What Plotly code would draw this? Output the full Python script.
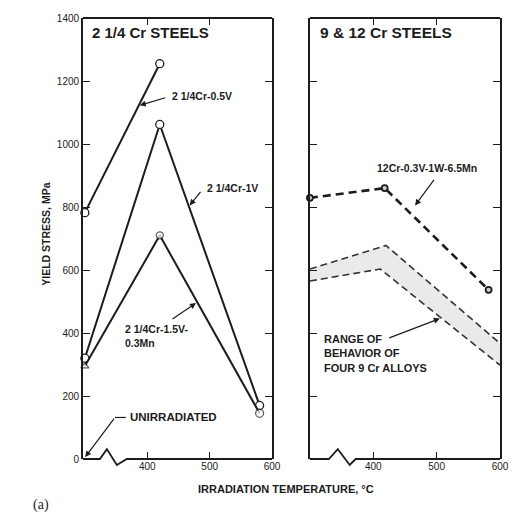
import plotly.graph_objects as go

# ---- data ----
temp_05V = [300, 420]
ys_05V = [782, 1255]
temp_1V = [300, 420, 580]
ys_1V = [320, 1062, 170]
temp_15V = [300, 420, 580]
ys_15V = [295, 710, 145]
temp_12Cr = [300, 418, 582]
ys_12Cr = [829, 860, 537]
band_upper_t = [300, 420, 600]
band_upper_y = [603, 678, 367]
band_lower_t = [300, 411, 600]
band_lower_y = [565, 603, 298]
y_ticks = [0, 200, 400, 600, 800, 1000, 1200, 1400]
x_ticks = [400, 500, 600]

W, H = 521, 523
ML, MR, MT, MB = 83, 19, 13, 64
PW = W - ML - MR
PH = H - MT - MB


def px(x):
    return (x - ML) / PW


def py(y):
    return (H - MB - y) / PH


INK = "#1c1c1c"
FONT = "Liberation Sans, Arial, sans-serif"

fig = go.Figure()

# left panel
fig.add_trace(go.Scatter(x=temp_05V, y=ys_05V, mode="lines+markers", xaxis="x", yaxis="y",
                         line=dict(color=INK, width=2),
                         marker=dict(symbol="circle", size=8, color="white", line=dict(color=INK, width=1.3)),
                         showlegend=False, cliponaxis=False))
fig.add_trace(go.Scatter(x=temp_1V, y=ys_1V, mode="lines+markers", xaxis="x", yaxis="y",
                         line=dict(color=INK, width=2),
                         marker=dict(symbol="circle", size=8, color="white", line=dict(color=INK, width=1.3)),
                         showlegend=False, cliponaxis=False))
fig.add_trace(go.Scatter(x=temp_15V, y=ys_15V, mode="lines+markers", xaxis="x", yaxis="y",
                         line=dict(color=INK, width=2),
                         marker=dict(symbol=["triangle-up", "circle", "circle"], size=[7, 7, 8], color="white",
                                     line=dict(color=INK, width=1.3)),
                         showlegend=False, cliponaxis=False))

# right panel: band
fig.add_trace(go.Scatter(x=band_lower_t, y=band_lower_y, mode="lines", xaxis="x2", yaxis="y2",
                         line=dict(color="#333", width=1.6, dash="7px,4px"), showlegend=False))
fig.add_trace(go.Scatter(x=band_upper_t, y=band_upper_y, mode="lines", xaxis="x2", yaxis="y2",
                         line=dict(color="#333", width=1.6, dash="7px,4px"), fill="tonexty",
                         fillcolor="rgba(185,185,185,0.3)", showlegend=False))
fig.add_trace(go.Scatter(x=temp_12Cr, y=ys_12Cr, mode="lines+markers", xaxis="x2", yaxis="y2",
                         line=dict(color=INK, width=2.6, dash="8px,5px"),
                         marker=dict(symbol="circle", size=6, color="#cfcfcf", line=dict(color=INK, width=1.8)),
                         showlegend=False, cliponaxis=False))

axis_common = dict(showgrid=False, zeroline=False, ticks="inside", ticklen=7, tickwidth=1.3,
                   tickcolor=INK, tickfont=dict(family=FONT, size=10, color=INK))

fig.update_layout(
    width=W, height=H, margin=dict(l=ML, r=MR, t=MT, b=MB),
    paper_bgcolor="white", plot_bgcolor="white",
    xaxis=dict(domain=[0, px(273)], range=[297, 600], tickvals=x_ticks, showline=False,
               mirror="ticks", anchor="y", **axis_common),
    yaxis=dict(domain=[0, 1], range=[0, 1400], tickvals=y_ticks, showline=True, linecolor=INK,
               linewidth=1.8, mirror="ticks", anchor="x", **axis_common),
    xaxis2=dict(domain=[px(311), 1], range=[300, 600], tickvals=x_ticks, showline=False,
                mirror="ticks", anchor="y2", **axis_common),
    yaxis2=dict(domain=[0, 1], range=[0, 1400], tickvals=y_ticks, showline=True, linecolor=INK,
                linewidth=1.8, mirror="ticks", anchor="x2", showticklabels=False, **axis_common),
)

shapes = []
line_style = dict(color=INK, width=1.8)
# top frame lines
shapes.append(dict(type="line", xref="paper", yref="paper", x0=0, x1=px(273), y0=1, y1=1, line=line_style))
shapes.append(dict(type="line", xref="paper", yref="paper", x0=px(311), x1=1, y0=1, y1=1, line=line_style))
# bottom axis lines with break zigzag
left_path = (f"M {px(83)},{py(459)} L {px(100)},{py(459)} L {px(107)},{py(449)} "
             f"L {px(117)},{py(465)} L {px(127)},{py(459)} L {px(273)},{py(459)}")
right_path = (f"M {px(311)},{py(459)} L {px(330)},{py(459)} L {px(339)},{py(449)} "
              f"L {px(351)},{py(465)} L {px(357)},{py(459)} L {px(502)},{py(459)}")
shapes.append(dict(type="path", xref="paper", yref="paper", path=left_path, line=line_style))
shapes.append(dict(type="path", xref="paper", yref="paper", path=right_path, line=line_style))
# short leader for UNIRRADIATED
shapes.append(dict(type="line", xref="paper", yref="paper", x0=px(115), x1=px(126), y0=py(417), y1=py(417),
                   line=dict(color=INK, width=1.2)))
fig.update_layout(shapes=shapes)

ann = []
lab = dict(family=FONT, size=10.5, color=INK)
bold = lambda s: f"<b>{s}</b>"

# titles
ann.append(dict(xref="paper", yref="paper", x=px(90), y=py(28), xanchor="left", yanchor="middle",
                text=bold("2 1/4 Cr STEELS"), showarrow=False, font=dict(family=FONT, size=15, color=INK)))
ann.append(dict(xref="paper", yref="paper", x=px(319), y=py(28), xanchor="left", yanchor="middle",
                text=bold("9 &amp; 12 Cr STEELS"), showarrow=False, font=dict(family=FONT, size=15.5, color=INK)))

# axis titles
ann.append(dict(xref="paper", yref="paper", x=px(37), y=py(232), text=bold("YIELD STRESS, MPa"),
                textangle=-90, showarrow=False, font=dict(family=FONT, size=10.5, color=INK)))
ann.append(dict(xref="paper", yref="paper", x=px(287), y=py(497), text=bold("IRRADIATION TEMPERATURE, °C"),
                showarrow=False, font=dict(family=FONT, size=11, color=INK)))
ann.append(dict(xref="paper", yref="paper", x=px(31), y=py(516), text="(a)", showarrow=False,
                font=dict(family="Liberation Serif, Times New Roman, serif", size=14, color=INK)))

# labels with arrows (left panel)
ann.append(dict(xref="x", yref="y", x=437, y=1152, xanchor="left", yanchor="middle",
                text=bold("2 1/4Cr-0.5V"), showarrow=False, font=lab))
ann.append(dict(xref="x", yref="y", x=388, y=1123, ax=27, ay=-8, text="", showarrow=True,
                arrowhead=2, arrowsize=1, arrowwidth=1.2, arrowcolor=INK))
ann.append(dict(xref="x", yref="y", x=492, y=860, xanchor="left", yanchor="middle",
                text=bold("2 1/4Cr-1V"), showarrow=False, font=lab))
ann.append(dict(xref="x", yref="y", x=468, y=805, ax=12, ay=-15, text="", showarrow=True,
                arrowhead=2, arrowsize=1, arrowwidth=1.2, arrowcolor=INK))
ann.append(dict(xref="x", yref="y", x=361, y=389, xanchor="left", yanchor="middle", align="left",
                text=bold("2 1/4Cr-1.5V-<br>0.3Mn"), showarrow=False, font=lab))
ann.append(dict(xref="x", yref="y", x=478, y=495, ax=-25, ay=17, text="", showarrow=True,
                arrowhead=2, arrowsize=1, arrowwidth=1.2, arrowcolor=INK))
ann.append(dict(xref="x", yref="y", x=369, y=132, xanchor="left", yanchor="middle",
                text=bold("UNIRRADIATED"), showarrow=False, font=dict(family=FONT, size=11.5, color=INK)))
ann.append(dict(xref="x", yref="y", x=300.5, y=6, ax=30, ay=-40, text="", showarrow=True,
                arrowhead=2, arrowsize=1, arrowwidth=1.2, arrowcolor=INK))

# right panel labels
ann.append(dict(xref="x2", yref="y2", x=485, y=923, xanchor="center", yanchor="middle",
                text=bold("12Cr-0.3V-1W-6.5Mn"), showarrow=False, font=lab))
ann.append(dict(xref="x2", yref="y2", x=466, y=805, ax=20, ay=-27, text="", showarrow=True,
                arrowhead=2, arrowsize=1, arrowwidth=1.2, arrowcolor=INK))
ann.append(dict(xref="x2", yref="y2", x=319, y=336, xanchor="left", yanchor="middle", align="left",
                text=bold("RANGE OF<br>BEHAVIOR OF<br>FOUR 9 Cr ALLOYS"), showarrow=False,
                font=dict(family=FONT, size=11, color=INK)))
ann.append(dict(xref="x2", yref="y2", x=505, y=446, ax=-52, ay=20, text="", showarrow=True,
                arrowhead=2, arrowsize=1, arrowwidth=1.2, arrowcolor=INK))

fig.update_layout(annotations=ann)

fig.write_html("out.html")
